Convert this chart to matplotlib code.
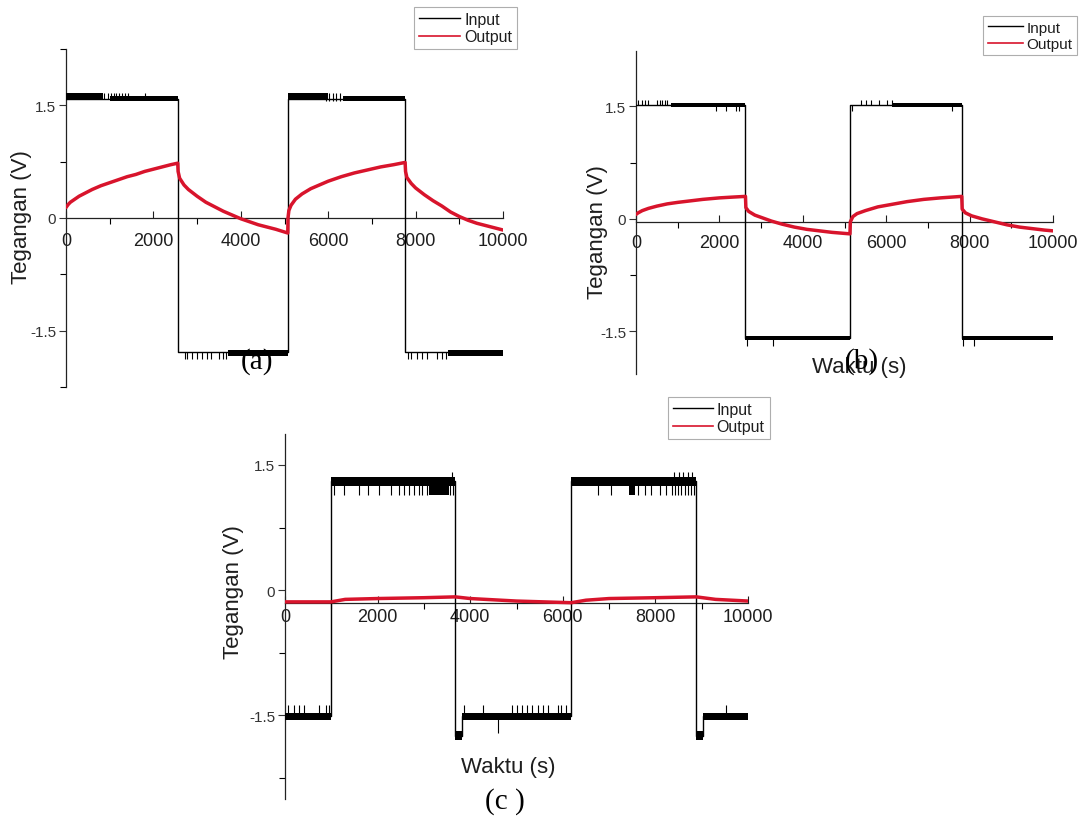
import matplotlib
matplotlib.use("Agg")
import matplotlib.pyplot as plt
from matplotlib.lines import Line2D
from matplotlib.patches import Rectangle
from matplotlib.ticker import MultipleLocator

# ---------------- data ----------------
# Panel (a): input square wave and RC output
a_edges = [0, 2557, 5075, 7760, 10000]
a_levels = [1.59, -1.78, 1.59, -1.78]
a_bands = [(0, 850, 1.59, 1.67), (1000, 2557, 1.555, 1.62),
           (3700, 5075, -1.84, -1.76), (5075, 6000, 1.59, 1.67),
           (6350, 7760, 1.555, 1.62), (8750, 10000, -1.84, -1.76)]
a_spikes_up = [880, 950, 1020, 1100, 1150, 1210, 1280, 1350, 1420, 1800]
a_spikes_dn_high = [5950, 6020, 6100, 6180, 6260]
a_spikes_dn_low = [2716, 2780, 2874, 2993, 3112, 3230, 3310, 3508, 3600, 3666,
                   7822, 7902, 8021, 8140, 8258, 8496, 8615, 8700]
a_out_t = [0, 50, 100, 200, 300, 400, 600, 800, 1000, 1200, 1400, 1600, 1800,
           2000, 2200, 2400, 2557,
           2565, 2600, 2700, 2800, 3000, 3200, 3400, 3600, 3800, 4000, 4200,
           4400, 4600, 4800, 5075,
           5080, 5100, 5150, 5250, 5400, 5600, 5800, 6000, 6300, 6600, 6900,
           7200, 7500, 7760,
           7770, 7800, 7900, 8000, 8200, 8400, 8600, 8800, 9000, 9200, 9400,
           9600, 9800, 10000]
a_out_v = [0.14, 0.18, 0.21, 0.25, 0.29, 0.32, 0.38, 0.43, 0.47, 0.51, 0.55,
           0.58, 0.62, 0.65, 0.68, 0.71, 0.73,
           0.62, 0.53, 0.44, 0.38, 0.29, 0.21, 0.15, 0.09, 0.04, -0.01, -0.05,
           -0.09, -0.12, -0.15, -0.20,
           0.00, 0.10, 0.17, 0.25, 0.32, 0.39, 0.44, 0.49, 0.55, 0.60, 0.64,
           0.68, 0.71, 0.74,
           0.62, 0.54, 0.46, 0.40, 0.31, 0.23, 0.16, 0.08, 0.02, -0.03, -0.07,
           -0.10, -0.13, -0.16]

# Panel (b)
b_edges = [0, 2625, 5131, 7812, 10000]
b_levels = [1.52, -1.59, 1.52, -1.59]
b_bands = [(850, 2625, 1.49, 1.55), (6150, 7812, 1.49, 1.55),
           (2625, 5131, -1.62, -1.56), (7812, 10000, -1.62, -1.56)]
b_spikes_up = [56, 135, 215, 294, 493, 573, 612, 692, 732,
               5386, 5505, 5625, 5823, 6022, 6141]
b_spikes_dn_high = [1925, 2164, 2403, 2482, 5171, 7574]
b_spikes_dn_low = [2660, 3280, 7840, 8100]
b_out_t = [0, 50, 150, 300, 500, 750, 1000, 1300, 1600, 2000, 2300, 2625,
           2635, 2700, 2850, 3000, 3250, 3500, 3800, 4100, 4400, 4700, 5131,
           5140, 5200, 5300, 5500, 5800, 6100, 6500, 6900, 7300, 7812,
           7822, 7900, 8050, 8300, 8600, 8900, 9200, 9500, 9800, 10000]
b_out_v = [0.06, 0.08, 0.11, 0.14, 0.17, 0.20, 0.22, 0.24, 0.26, 0.28, 0.29,
           0.30,
           0.15, 0.10, 0.05, 0.02, -0.03, -0.07, -0.11, -0.14, -0.16, -0.18,
           -0.20,
           -0.04, 0.03, 0.07, 0.11, 0.16, 0.19, 0.23, 0.26, 0.28, 0.30,
           0.13, 0.08, 0.04, 0.00, -0.04, -0.08, -0.11, -0.13, -0.15, -0.16]

# Panel (c)
c_edges = [0, 995, 3678, 3830, 6183, 8882, 9036, 10000]
c_levels = [-1.51, 1.31, -1.74, -1.51, 1.31, -1.74, -1.51]
c_bands = [(995, 3678, 1.25, 1.36), (6183, 8882, 1.25, 1.36),
           (0, 995, -1.56, -1.47), (3830, 6183, -1.56, -1.47),
           (9036, 10000, -1.56, -1.47),
           (3678, 3830, -1.79, -1.68), (8882, 9036, -1.79, -1.68),
           (3105, 3535, 1.14, 1.36), (7430, 7570, 1.14, 1.36)]
c_spikes_dn_high = [1067, 1281, 1603, 1782, 2032, 2283, 2462, 2569, 2676,
                    2784, 2891, 2962, 3070, 3570, 3620,
                    6760, 7050, 7625, 7770, 7914, 8094, 8238, 8350, 8420,
                    8490, 8560, 8630, 8700, 8770, 8840]
c_spikes_up_high = [3606, 8400, 8500, 8600, 8700, 8800]
c_spikes_up_low = [74, 185, 295, 405, 737, 884, 958,
                   3857, 4286, 4895, 5002, 5110, 5217, 5324, 5467, 5575,
                   5682, 5897, 5968, 6076, 9520]
c_spikes_dn_low = [4594]
c_out_t = [0, 500, 995, 1300, 2000, 3000, 3678, 4000, 5000, 6183,
           6500, 7000, 8000, 8882, 9300, 10000]
c_out_v = [-0.14, -0.14, -0.14, -0.11, -0.10, -0.09, -0.08, -0.10, -0.13, -0.15,
           -0.12, -0.10, -0.09, -0.08, -0.11, -0.13]

x_ticks = [0, 2000, 4000, 6000, 8000, 10000]
y_ticks = [-1.5, 0, 1.5]
legend_labels = ["Input", "Output"]

# ---------------- style ----------------
W, H = 1083, 820
SANS = "Liberation Sans"
SERIF = "Liberation Serif"
TXT = "#1e1e1e"
RED = "#d8142c"

fig = plt.figure(figsize=(W / 100, H / 100), dpi=100)
fig.patch.set_facecolor("white")


def add_axes_px(left, top, right, bottom):
    return fig.add_axes([left / W, 1 - bottom / H, (right - left) / W,
                         (bottom - top) / H])


def step_path(edges, levels):
    xs, ys = [], []
    for i, lv in enumerate(levels):
        xs += [edges[i], edges[i + 1]]
        ys += [lv, lv]
    return xs, ys


def draw_panel(ax, edges, levels, bands, spikes, out_t, out_v, ylim, xaxis_y,
               xpad):
    xs, ys = step_path(edges, levels)
    ax.plot(xs, ys, color="black", lw=1.0, zorder=3)
    for t0, t1, lo, hi in bands:
        ax.fill_between([t0, t1], [lo, lo], [hi, hi], color="black", lw=0,
                        zorder=3)
    for ts, y0, y1 in spikes:
        if ts:
            ax.vlines(ts, y0, y1, color="black", lw=0.8, zorder=3)
    ax.plot(out_t, out_v, color=RED, lw=2.5, zorder=4,
            solid_capstyle="round", solid_joinstyle="round")

    ax.set_xlim(0, 10000)
    ax.set_ylim(*ylim)
    ax.spines["top"].set_visible(False)
    ax.spines["right"].set_visible(False)
    ax.spines["bottom"].set_position(("data", xaxis_y))
    for s in ("left", "bottom"):
        ax.spines[s].set_linewidth(0.9)
        ax.spines[s].set_color("#222222")
    ax.set_xticks(x_ticks)
    ax.set_xticklabels([str(v) for v in x_ticks])
    ax.xaxis.set_minor_locator(MultipleLocator(1000))
    ax.set_yticks(y_ticks)
    ax.set_yticklabels(["-1.5", "0", "1.5"])
    ax.yaxis.set_minor_locator(MultipleLocator(0.75))
    ax.tick_params(axis="x", which="major", direction="in", length=5,
                   width=0.8, pad=xpad, labelsize=13, colors=TXT)
    ax.tick_params(axis="x", which="minor", direction="out", length=4,
                   width=0.8)
    ax.tick_params(axis="y", which="major", direction="out", length=5,
                   width=0.8, pad=2, labelsize=11, colors="#333333")
    ax.tick_params(axis="y", which="minor", direction="out", length=4,
                   width=0.8)
    for lab in ax.get_xticklabels() + ax.get_yticklabels():
        lab.set_family(SANS)
    ax.patch.set_alpha(0)


# panel (a)
ax_a = add_axes_px(66, 50, 503, 388)
draw_panel(ax_a, a_edges, a_levels, a_bands,
           [(a_spikes_up, 1.59, 1.67), (a_spikes_dn_high, 1.67, 1.56),
            (a_spikes_dn_low, -1.78, -1.88)],
           a_out_t, a_out_v, (-2.25, 2.25), 0, 10)

# panel (b)
ax_b = add_axes_px(636, 52, 1053, 375)
draw_panel(ax_b, b_edges, b_levels, b_bands,
           [(b_spikes_up, 1.52, 1.59), (b_spikes_dn_high, 1.52, 1.44),
            (b_spikes_dn_low, -1.56, -1.69)],
           b_out_t, b_out_v, (-2.07, 2.24), -0.04, 9)

# panel (c)
ax_c = add_axes_px(285, 435, 748, 800)
draw_panel(ax_c, c_edges, c_levels, c_bands,
           [(c_spikes_dn_high, 1.31, 1.14), (c_spikes_up_high, 1.31, 1.41),
            (c_spikes_up_low, -1.51, -1.37), (c_spikes_dn_low, -1.51, -1.71)],
           c_out_t, c_out_v, (-2.5, 1.87), -0.15, 4)


def fig_text(x, y, s, **kw):
    fig.text(x / W, 1 - y / H, s, **kw)


# axis titles
lab_kw = dict(family=SANS, fontsize=16, color=TXT, ha="center", va="center")
fig_text(22, 217, "Tegangan (V)", rotation=90, **lab_kw)
fig_text(597, 232, "Tegangan (V)", rotation=90, **lab_kw)
fig_text(234, 592, "Tegangan (V)", rotation=90, **lab_kw)
fig_text(859, 368, "Waktu (s)", **lab_kw)
fig_text(508, 768, "Waktu (s)", **lab_kw)

# panel captions
cap_kw = dict(family=SERIF, fontsize=21, color="black", ha="center",
              va="center")
fig_text(257, 362, "(a)", **cap_kw)
fig_text(862, 362, "(b)", **cap_kw)
fig_text(505, 802, "(c )", **cap_kw)

# legends
handles = [Line2D([], [], color="black", lw=1.0),
           Line2D([], [], color=RED, lw=1.2)]


def add_legend(left, top, size, hlen):
    leg = fig.legend(handles, legend_labels, loc="upper left",
                     bbox_to_anchor=(left / W, 1 - top / H),
                     frameon=True, fancybox=False, edgecolor="#9a9a9a",
                     borderpad=0.3, handlelength=hlen, handletextpad=0.25,
                     labelspacing=0.15, borderaxespad=0,
                     prop={"family": SANS, "size": size})
    leg.get_frame().set_linewidth(0.8)
    for t in leg.get_texts():
        t.set_color(TXT)
    return leg


add_legend(414, 8, 11.5, 2.6)
add_legend(983, 17, 11, 2.3)
add_legend(668, 398, 11.5, 2.5)

# panel (a) legend is trimmed by the neighbouring panel
fig.patches.append(Rectangle((527 / W, 1 - 62 / H), 30 / W, 62 / H,
                             transform=fig.transFigure, facecolor="white",
                             edgecolor="none", zorder=10))

fig.savefig("out.png", dpi=100, facecolor="white")
